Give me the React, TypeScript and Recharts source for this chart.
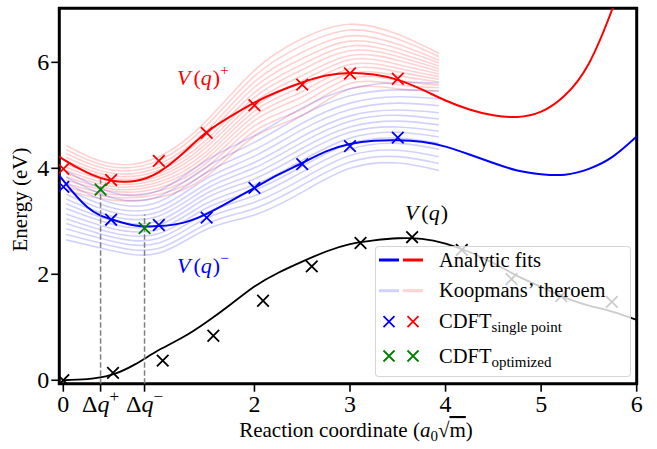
import React from "react";
import {
  ComposedChart,
  Line,
  Scatter,
  XAxis,
  YAxis,
  ReferenceLine,
  ReferenceArea,
  Legend,
} from "recharts";

const FONT = '"Liberation Serif", "DejaVu Serif", "Times New Roman", serif';
const RED = "#ff0000";
const BLUE = "#0000ff";
const GREEN = "#008000";
const FAINT_RED = "rgba(255,0,0,0.18)";
const FAINT_BLUE = "rgba(0,0,255,0.18)";

const Q_MIN = -0.042;
const Q_MAX = 6;
const E_MIN = -0.065;
const E_MAX = 7.02;

// analytic fits, sampled every 0.25
const fitQ = [0, 0.25, 0.5, 0.75, 1, 1.25, 1.5, 1.75, 2, 2.25, 2.5, 2.75, 3, 3.25, 3.5, 3.75, 4, 4.25, 4.5, 4.75, 5, 5.25, 5.5, 5.75, 6];
const fitV = [0.0, 0.02, 0.1, 0.3, 0.57, 0.81, 1.1, 1.43, 1.77, 2.03, 2.24, 2.43, 2.57, 2.64, 2.68, 2.67, 2.58, 2.42, 2.21, 1.97, 1.76, 1.56, 1.41, 1.29, 1.14];
// ionic fits start at the left edge of the frame
const ionQ = [-0.04, ...fitQ];
const fitVPlus = [4.24, 4.17, 3.92, 3.77, 3.76, 3.93, 4.28, 4.68, 4.98, 5.24, 5.45, 5.62, 5.75, 5.8, 5.77, 5.67, 5.49, 5.28, 5.11, 5.0, 4.97, 5.07, 5.38, 5.98, 7.03, 8.3];
const fitVMinus = [3.86, 3.77, 3.27, 3.04, 2.92, 2.91, 2.97, 3.14, 3.38, 3.63, 3.88, 4.1, 4.32, 4.46, 4.52, 4.53, 4.5, 4.41, 4.26, 4.1, 3.96, 3.89, 3.88, 3.99, 4.22, 4.6];

// Koopmans' theorem estimates, one row per geometry
const koopQ = [0.03, 0.5, 1, 1.5, 2, 2.5, 3, 3.5, 3.93];
const koopPlus = [
  [3.58, 3.4, 3.45, 3.85, 4.6, 5.0, 5.5, 5.5, 5.46],
  [3.65, 3.46, 3.51, 3.93, 4.7, 5.12, 5.6, 5.58, 5.52],
  [3.72, 3.51, 3.57, 4.02, 4.8, 5.23, 5.7, 5.66, 5.57],
  [3.78, 3.57, 3.63, 4.1, 4.9, 5.35, 5.79, 5.75, 5.63],
  [3.84, 3.61, 3.69, 4.18, 4.99, 5.45, 5.88, 5.82, 5.68],
  [3.9, 3.66, 3.74, 4.25, 5.08, 5.55, 5.96, 5.89, 5.73],
  [3.96, 3.71, 3.8, 4.32, 5.16, 5.65, 6.05, 5.96, 5.78],
  [4.02, 3.76, 3.85, 4.4, 5.25, 5.75, 6.13, 6.04, 5.83],
  [4.08, 3.81, 3.9, 4.47, 5.34, 5.86, 6.22, 6.11, 5.88],
  [4.14, 3.86, 3.96, 4.54, 5.43, 5.96, 6.31, 6.18, 5.93],
  [4.21, 3.91, 4.02, 4.63, 5.53, 6.07, 6.4, 6.26, 5.99],
  [4.28, 3.97, 4.08, 4.71, 5.63, 6.19, 6.5, 6.34, 6.04],
  [4.35, 4.03, 4.15, 4.81, 5.74, 6.32, 6.61, 6.44, 6.11],
  [4.43, 4.09, 4.22, 4.9, 5.85, 6.45, 6.72, 6.53, 6.17],
];
const koopMinus = [
  [2.65, 2.45, 2.4, 2.85, 3.12, 3.55, 4.0, 4.1, 3.96],
  [2.75, 2.54, 2.49, 2.95, 3.24, 3.68, 4.12, 4.22, 4.09],
  [2.86, 2.63, 2.59, 3.06, 3.36, 3.8, 4.24, 4.34, 4.22],
  [2.96, 2.71, 2.68, 3.16, 3.48, 3.93, 4.36, 4.47, 4.36],
  [3.05, 2.79, 2.77, 3.25, 3.59, 4.04, 4.47, 4.57, 4.47],
  [3.14, 2.87, 2.85, 3.34, 3.69, 4.15, 4.57, 4.68, 4.59],
  [3.24, 2.95, 2.93, 3.44, 3.8, 4.27, 4.68, 4.78, 4.7],
  [3.33, 3.02, 3.01, 3.53, 3.9, 4.38, 4.78, 4.89, 4.82],
  [3.42, 3.1, 3.1, 3.62, 4.01, 4.49, 4.89, 5.0, 4.93],
  [3.51, 3.18, 3.18, 3.71, 4.11, 4.6, 4.99, 5.1, 5.05],
  [3.61, 3.26, 3.27, 3.81, 4.23, 4.73, 5.11, 5.23, 5.18],
  [3.72, 3.35, 3.37, 3.92, 4.35, 4.85, 5.23, 5.35, 5.31],
  [3.83, 3.45, 3.47, 4.03, 4.49, 5.0, 5.37, 5.48, 5.46],
  [3.95, 3.55, 3.58, 4.15, 4.62, 5.14, 5.5, 5.62, 5.61],
];

// CDFT single point energies
const groundQ = [0, 0.52, 1.04, 1.57, 2.09, 2.6, 3.11, 3.65, 4.17, 4.69, 5.21, 5.74];
const groundV = [0.0, 0.14, 0.37, 0.84, 1.5, 2.15, 2.59, 2.7, 2.46, 1.91, 1.59, 1.48];
const cdftQ = [0, 0.5, 1, 1.5, 2, 2.5, 3, 3.5];
const cdftMinus = [3.65, 3.03, 2.93, 3.07, 3.63, 4.08, 4.42, 4.58];
const cdftPlus = [3.99, 3.78, 4.14, 4.67, 5.19, 5.58, 5.79, 5.69];

// CDFT at optimized geometries, at the shifts Δq+ and Δq−
const deltaQ = [0.39, 0.85];
const optV = [3.6, 2.87];
const deltaTop = [3.8, 3.13];

const xTicks = [0, deltaQ[0], deltaQ[1], 2, 3, 4, 5, 6];
const xTickLabels = ["0", "Δq+", "Δq−", "2", "3", "4", "5", "6"];
const yTicks = [0, 2, 4, 6];

// curve names placed next to each curve
const curveNameQ = [1.46, 1.46, 3.8];
const curveNameV = [5.57, 2.02, 3.02];
const curveNameSign = ["+", "−", ""];
const curveNameColor = [RED, BLUE, "#000"];

const pts = (qs: number[], vs: number[]) => qs.map((q, i) => ({ q, v: vs[i] }));

const crossPath = (cx: number, cy: number, h: number) =>
  `M${cx - h},${cy - h}L${cx + h},${cy + h}M${cx - h},${cy + h}L${cx + h},${cy - h}`;

const crossShape = (color: string) => (props: any) => {
  const { cx, cy } = props;
  if (cx == null || cy == null) return <g />;
  return <path d={crossPath(cx, cy, 5.8)} stroke={color} strokeWidth={1.8} fill="none" />;
};

const curveNameShape = (props: any) => {
  const { cx, cy, payload } = props;
  if (cx == null || cy == null) return <g />;
  return (
    <text x={cx} y={cy} textAnchor="middle" style={{ fontFamily: FONT }} fontSize={22} fill={payload.color}>
      <tspan fontStyle="italic">V</tspan>
      <tspan dx={3}>(</tspan>
      <tspan fontStyle="italic">q</tspan>
      <tspan dx={1}>)</tspan>
      {payload.sign && (
        <tspan fontSize={15} dy={-10}>
          {payload.sign}
        </tspan>
      )}
    </text>
  );
};

const XTick = (props: any) => {
  const { x, y, payload } = props;
  const idx = xTicks.findIndex((t) => Math.abs(t - payload.value) < 1e-6);
  const label = idx >= 0 ? xTickLabels[idx] : String(payload.value);
  return (
    <text x={x} y={y} dy={18.5} textAnchor="middle" style={{ fontFamily: FONT }} fontSize={24} fill="#000">
      {label.startsWith("Δ") ? (
        <>
          <tspan>Δ</tspan>
          <tspan fontStyle="italic">q</tspan>
          <tspan fontSize={17} dy={-10}>
            {label.slice(2)}
          </tspan>
        </>
      ) : (
        label
      )}
    </text>
  );
};

const YTick = (props: any) => {
  const { x, y, payload } = props;
  return (
    <text x={x} y={y} dy={8} textAnchor="end" style={{ fontFamily: FONT }} fontSize={24} fill="#000">
      {payload.value}
    </text>
  );
};

const XTitle = () => (
  <text x={356} y={437} textAnchor="middle" style={{ fontFamily: FONT }} fontSize={21} fill="#000">
    Reaction coordinate (<tspan fontStyle="italic">a</tspan>
    <tspan fontSize={15} dy={4}>
      0
    </tspan>
    <tspan dy={-4}>√</tspan>
    <tspan style={{ textDecoration: "overline" }}>m</tspan>)
  </text>
);

const YTitle = () => (
  <text
    x={27}
    y={199.5}
    transform="rotate(-90 27 199.5)"
    textAnchor="middle"
    style={{ fontFamily: FONT }}
    fontSize={21}
    fill="#000"
  >
    Energy (eV)
  </text>
);

const LEGEND_W = 256;
const LEGEND_H = 131;

const LegendBox = () => (
  <div
    style={{
      position: "relative",
      width: LEGEND_W,
      height: LEGEND_H,
      boxSizing: "border-box",
      background: "rgba(255,255,255,0.8)",
      border: "1px solid rgba(204,204,204,0.8)",
      borderRadius: 4,
    }}
  >
    <svg width={LEGEND_W} height={LEGEND_H} style={{ position: "absolute", left: -1, top: -1 }}>
      <line x1={4} x2={24} y1={14} y2={14} stroke={BLUE} strokeWidth={3} />
      <line x1={28} x2={48} y1={14} y2={14} stroke={RED} strokeWidth={3} />
      <line x1={4} x2={24} y1={44.7} y2={44.7} stroke={FAINT_BLUE} strokeWidth={3} />
      <line x1={28} x2={48} y1={44.7} y2={44.7} stroke={FAINT_RED} strokeWidth={3} />
      <path d={crossPath(14, 75.7, 5.5)} stroke={BLUE} strokeWidth={1.8} fill="none" />
      <path d={crossPath(38, 75.7, 5.5)} stroke={RED} strokeWidth={1.8} fill="none" />
      <path d={crossPath(14, 110, 5.5)} stroke={GREEN} strokeWidth={1.8} fill="none" />
      <path d={crossPath(38, 110, 5.5)} stroke={GREEN} strokeWidth={1.8} fill="none" />
      <g style={{ fontFamily: FONT }} fontSize={20.5} fill="#000">
        <text x={64} y={20.7}>Analytic fits</text>
        <text x={64} y={50.7}>Koopmans’ theroem</text>
        <text x={64} y={82.3}>
          CDFT
          <tspan fontSize={15} dy={3.4}>
            single point
          </tspan>
        </text>
        <text x={64} y={117.3}>
          CDFT
          <tspan fontSize={15} dy={3.4}>
            optimized
          </tspan>
        </text>
      </g>
    </svg>
  </div>
);

const App = () => {
  const curveNames = curveNameQ.map((q, i) => ({
    q,
    v: curveNameV[i],
    sign: curveNameSign[i],
    color: curveNameColor[i],
  }));
  return (
    <div style={{ position: "absolute", left: 0, top: 0, background: "#fff" }}>
      <ComposedChart width={657} height={449} margin={{ top: 8.3, right: 20.3, bottom: 25.3, left: 0 }}>
        <XAxis
          type="number"
          dataKey="q"
          domain={[Q_MIN, Q_MAX]}
          allowDataOverflow
          ticks={xTicks}
          interval={0}
          tick={<XTick />}
          tickSize={8}
          tickLine={{ stroke: "#000", strokeWidth: 1.6 }}
          axisLine={false}
          height={40}
          label={<XTitle />}
        />
        <YAxis
          type="number"
          dataKey="v"
          domain={[E_MIN, E_MAX]}
          allowDataOverflow
          ticks={yTicks}
          interval={0}
          tick={<YTick />}
          tickSize={8}
          tickLine={{ stroke: "#000", strokeWidth: 1.6 }}
          axisLine={false}
          width={59.3}
          label={<YTitle />}
        />

        {koopPlus.map((row, i) => (
          <Line
            key={`kp${i}`}
            data={pts(koopQ, row)}
            dataKey="v"
            type="natural"
            stroke={FAINT_RED}
            strokeWidth={1.6}
            dot={false}
            activeDot={false}
            isAnimationActive={false}
          />
        ))}
        {koopMinus.map((row, i) => (
          <Line
            key={`km${i}`}
            data={pts(koopQ, row)}
            dataKey="v"
            type="natural"
            stroke={FAINT_BLUE}
            strokeWidth={1.6}
            dot={false}
            activeDot={false}
            isAnimationActive={false}
          />
        ))}

        <Line data={pts(fitQ, fitV)} dataKey="v" type="natural" stroke="#000" strokeWidth={1.8} dot={false} activeDot={false} isAnimationActive={false} />
        <Line data={pts(ionQ, fitVMinus)} dataKey="v" type="natural" stroke={BLUE} strokeWidth={2} dot={false} activeDot={false} isAnimationActive={false} />
        <Line data={pts(ionQ, fitVPlus)} dataKey="v" type="natural" stroke={RED} strokeWidth={2} dot={false} activeDot={false} isAnimationActive={false} />

        {deltaQ.map((q, i) => (
          <ReferenceLine
            key={`dq${i}`}
            segment={[
              { x: q, y: E_MIN },
              { x: q, y: deltaTop[i] },
            ]}
            stroke="#808080"
            strokeWidth={1.5}
            strokeDasharray="5.5 2.5"
          />
        ))}

        <Scatter data={pts(groundQ, groundV)} dataKey="v" shape={crossShape("#000")} isAnimationActive={false} />
        <Scatter data={pts(cdftQ, cdftMinus)} dataKey="v" shape={crossShape(BLUE)} isAnimationActive={false} />
        <Scatter data={pts(cdftQ, cdftPlus)} dataKey="v" shape={crossShape(RED)} isAnimationActive={false} />
        <Scatter data={pts(deltaQ, optV)} dataKey="v" shape={crossShape(GREEN)} isAnimationActive={false} />
        <Scatter data={curveNames} dataKey="v" shape={curveNameShape} isAnimationActive={false} />

        <ReferenceArea
          x1={Q_MIN}
          x2={Q_MAX}
          y1={E_MIN}
          y2={E_MAX}
          ifOverflow="visible"
          fill="none"
          stroke="#000"
          strokeWidth={3}
        />

        <Legend
          layout="vertical"
          align="center"
          verticalAlign="middle"
          content={() => <LegendBox />}
          wrapperStyle={{ left: 375, top: 246, width: LEGEND_W, height: LEGEND_H }}
        />
      </ComposedChart>
    </div>
  );
};

export default App;
